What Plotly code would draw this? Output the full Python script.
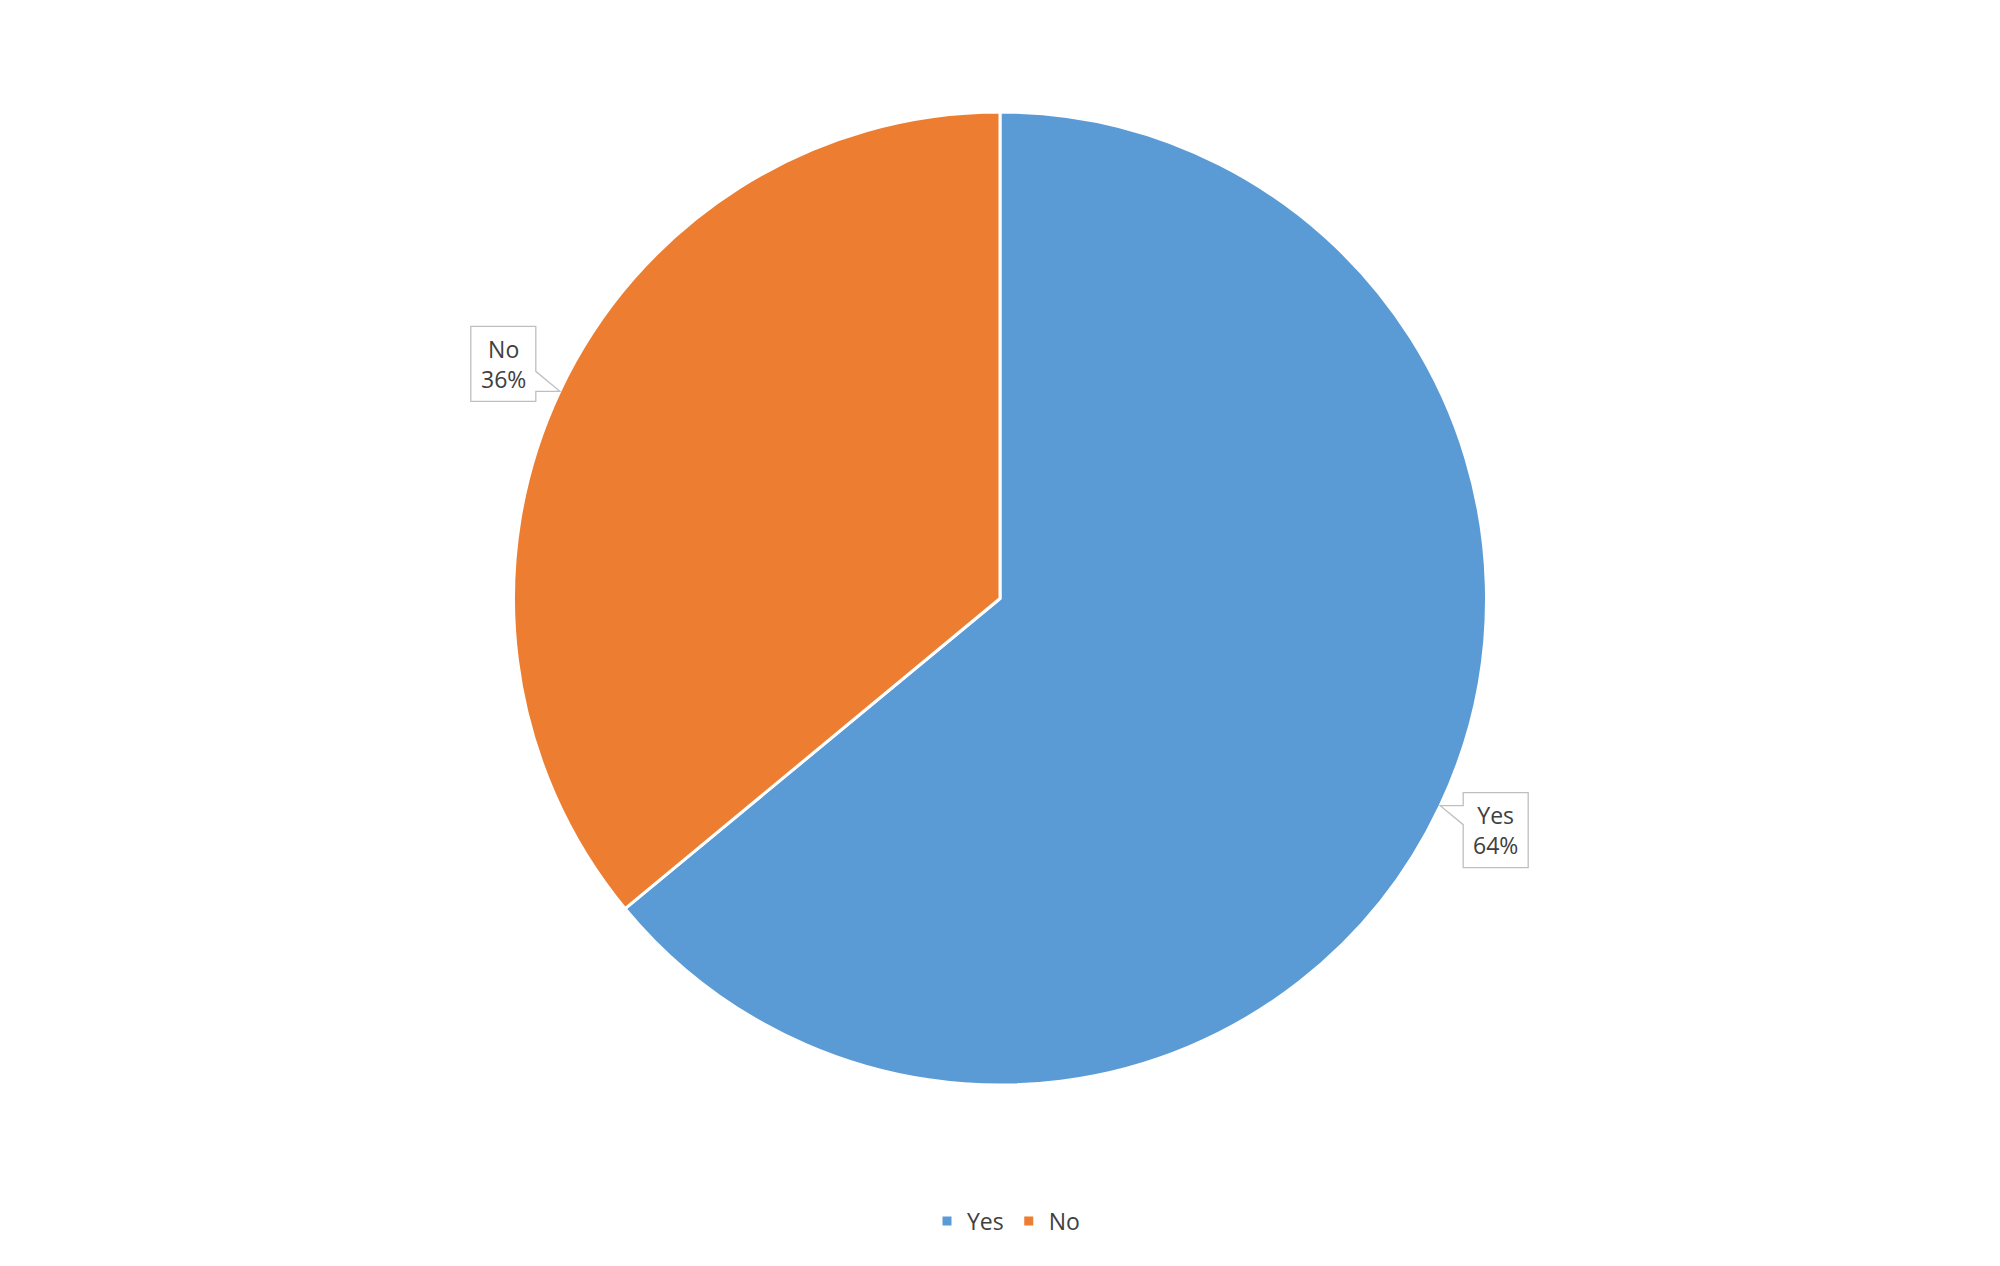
import math
import plotly.graph_objects as go

labels = ["Yes", "No"]
values = [64, 36]
colors = ["#5B9BD5", "#ED7D31"]

W, H = 2000, 1266
cx, cy, r = 1000, 598.5, 486.5  # pixel layout of pie
dom_y0 = 1 - (cy + r) / H
dom_y1 = 1 - (cy - r) / H

fig = go.Figure(go.Pie(
    labels=labels, values=values, sort=False, direction="clockwise", rotation=0,
    marker=dict(colors=colors, line=dict(color="white", width=3)),
    textinfo="none", hoverinfo="label+percent",
    domain=dict(x=[0, 1], y=[dom_y0, dom_y1]),
))

def px(x):
    return x / W

def py(y):
    return 1 - y / H

total = sum(values)
cum = 0
shapes, annotations = [], []
bw, bh = 65, 75
for lab, v in zip(labels, values):
    mid = (cum + v / 2) / total * 2 * math.pi
    cum += v
    tx = cx + r * math.sin(mid)
    ty = cy - r * math.cos(mid)
    if math.sin(mid) < 0:
        right = tx - 24
        bottom = ty + 10
        left, top = right - bw, bottom - bh
        pts = [(left, top), (right, top), (right, ty - 20), (tx, ty), (right, ty), (right, bottom), (left, bottom)]
    else:
        left = tx + 23
        top = ty - 13
        right, bottom = left + bw, top + bh
        pts = [(left, top), (right, top), (right, bottom), (left, bottom), (left, ty + 19), (tx, ty), (left, ty)]
    path = "M " + " L ".join(f"{px(x):.5f},{py(y):.5f}" for x, y in pts) + " Z"
    shapes.append(dict(type="path", path=path, xref="paper", yref="paper",
                       line=dict(color="#BFBFBF", width=1.3), fillcolor="white", layer="above"))
    pct = round(v / total * 100)
    annotations.append(dict(x=px((left + right) / 2), y=py((top + bottom) / 2), xref="paper", yref="paper",
                            xanchor="center", yanchor="middle",
                            text=f"{lab}<br>{pct}%", showarrow=False, align="center",
                            font=dict(family="Open Sans", size=23, color="#404040")))

fig.update_layout(
    width=W, height=H, margin=dict(l=0, r=0, t=0, b=0),
    paper_bgcolor="white", plot_bgcolor="white",
    shapes=shapes, annotations=annotations,
    showlegend=True,
    legend=dict(orientation="h", x=0.503, xanchor="center", y=1 - 1221 / H, yanchor="middle",
                font=dict(family="Open Sans", size=23, color="#404040"), itemwidth=30),
)

fig.write_html("out.html", config={"displayModeBar": False},
               post_script="document.body.style.margin='0';document.body.style.padding='0';")
